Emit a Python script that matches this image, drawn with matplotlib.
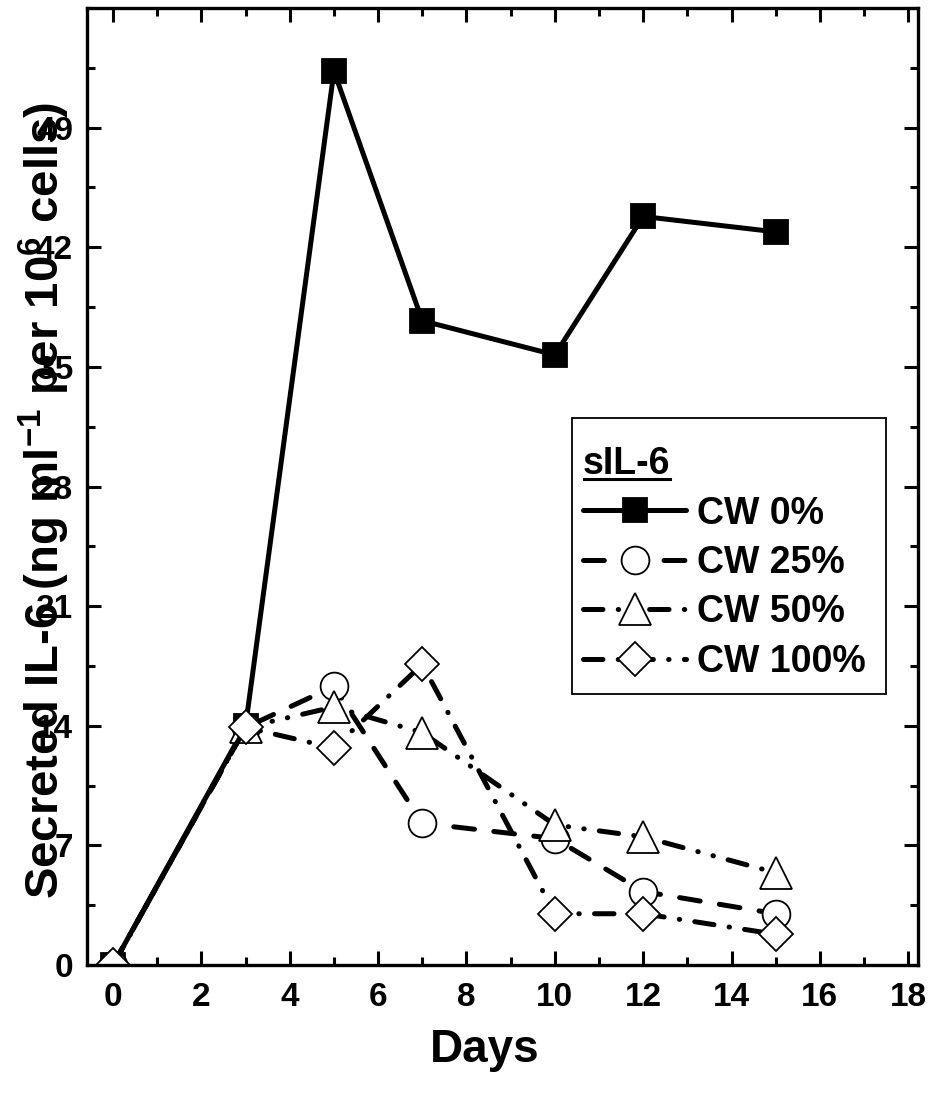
import matplotlib
matplotlib.use("Agg")
import matplotlib.pyplot as plt
from matplotlib import font_manager
from matplotlib.lines import Line2D
from matplotlib.patches import Rectangle
from matplotlib.ticker import MultipleLocator, FixedLocator

days = [0, 3, 5, 7, 10, 12, 15]
cw0 = [0, 14.0, 52.3, 37.7, 35.7, 43.8, 42.9]
cw25 = [0, 13.9, 16.3, 8.3, 7.4, 4.3, 3.0]
cw50 = [0, 13.9, 15.1, 13.6, 8.2, 7.5, 5.4]
cw100 = [0, 13.9, 12.7, 17.6, 3.0, 3.0, 1.8]
labels = ["CW 0%", "CW 25%", "CW 50%", "CW 100%"]
xticks = [0, 2, 4, 6, 8, 10, 12, 14, 16, 18]
yticks = [0, 7, 14, 21, 28, 35, 42, 49]

names = {f.name for f in font_manager.fontManager.ttflist}
main_font = "Liberation Sans" if "Liberation Sans" in names else "DejaVu Sans"
plt.rcParams['font.family'] = [main_font, 'DejaVu Sans']
plt.rcParams['font.weight'] = 'bold'
plt.rcParams['mathtext.fontset'] = 'custom'
plt.rcParams['mathtext.rm'] = main_font + ':bold'
plt.rcParams['mathtext.default'] = 'rm'
plt.rcParams['lines.scale_dashes'] = False

W, H = 934, 1096
fig = plt.figure(figsize=(W / 100, H / 100), dpi=100)
ax = fig.add_axes([87 / W, 1 - 965 / H, (918 - 87) / W, (965 - 8) / H])

lw = 3.6
styles = [
    dict(ls='-', marker='s', mfc='black', ms=17),
    dict(ls=(0, (15, 14)), marker='o', mfc='white', ms=20),
    dict(ls=(0, (14, 11, 0.3, 11, 0.3, 11)), marker='^', mfc='white', ms=23),
    dict(ls=(0, (14, 11, 0.3, 11)), marker='D', mfc='white', ms=17),
]
series = [cw0, cw25, cw50, cw100]
for vals, st, lab in zip(series, styles, labels):
    ax.plot(days, vals, color='black', lw=lw, ls=st['ls'], marker=st['marker'],
            ms=st['ms'], mfc=st['mfc'], mec='black', mew=1.3,
            dash_capstyle='round', solid_capstyle='round', label=lab)

ax.set_xlim(-0.59, 18.22)
ax.set_ylim(0, 56)
ax.xaxis.set_major_locator(FixedLocator(xticks))
ax.xaxis.set_minor_locator(MultipleLocator(1))
ax.yaxis.set_major_locator(FixedLocator(yticks))
ax.yaxis.set_minor_locator(MultipleLocator(3.5))
ax.tick_params(which='both', direction='in', top=True, right=True, width=2.2)
ax.tick_params(which='major', length=10)
ax.tick_params(which='minor', length=5.5)
ax.tick_params(axis='x', which='major', pad=12)
ax.tick_params(axis='y', which='major', pad=10)
ax.tick_params(labelright=False, labeltop=False)
for lab in ax.get_xticklabels() + ax.get_yticklabels():
    lab.set_fontsize(24)
    lab.set_fontweight('bold')
for sp in ax.spines.values():
    sp.set_linewidth(2.4)

fig.text(44 / W, 1 - 500 / H,
         r"Secreted IL-6 (ng ml$^{-1}$ per 10$^{6}$ cells)",
         rotation=90, ha='center', va='center', fontsize=34, fontweight='bold')
fig.text(485 / W, 1 - 1050 / H, "Days", ha='center', va='center',
         fontsize=33, fontweight='bold')

# legend frame drawn separately
frame = Rectangle((572 / W, 1 - 694 / H), (886 - 572) / W, (694 - 418) / H,
                  transform=fig.transFigure, facecolor='white',
                  edgecolor='black', lw=1.3, zorder=4, clip_on=False)
ax.add_patch(frame)
leg = ax.legend(loc='upper left', bbox_to_anchor=(583 / W, 1 - 446 / H),
                bbox_transform=fig.transFigure,
                borderaxespad=0, title="sIL-6", alignment='left', frameon=False,
                handlelength=2.75, handletextpad=0.3,
                prop=dict(size=27, weight='bold'), title_fontproperties=dict(size=27, weight='bold'),
                labelspacing=0.36, borderpad=0)
leg.set_zorder(5)

fig.canvas.draw()
tb = leg.get_title().get_window_extent()
ul = Line2D([tb.x0 + 1, tb.x1 - 1], [tb.y0 + 3, tb.y0 + 3], transform=None,
            color='black', lw=2.2, zorder=6)
fig.add_artist(ul)

fig.savefig("out.png", dpi=100)
